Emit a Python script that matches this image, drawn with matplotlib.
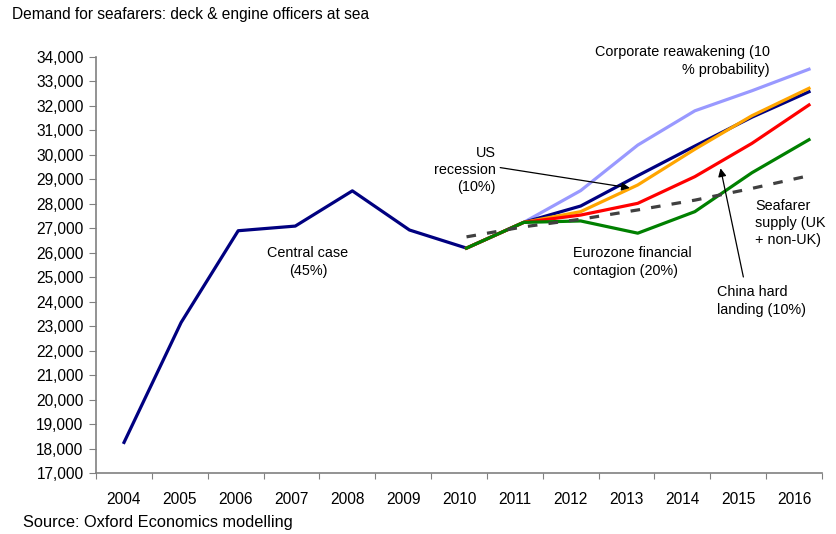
"""
Demand for seafarers (deck & engine officers at sea) under each scenario.
"""

import matplotlib.pyplot as plt

plt.rcParams["font.family"] = ["Liberation Sans", "DejaVu Sans"]
plt.rcParams["font.size"] = 10

years = list(range(2004, 2017))
forecast_years = list(range(2010, 2017))

central = [18250, 23150, 26900, 27090, 28530, 26930, 26190,
           27240, 27910, 29150, 30360, 31540, 32580]
corporate = [26190, 27240, 28540, 30400, 31800, 32620, 33500]
us_recession = [26190, 27240, 27680, 28770, 30230, 31600, 32720]
china = [26190, 27240, 27540, 28020, 29110, 30470, 32040]
eurozone = [26190, 27240, 27300, 26800, 27680, 29270, 30620]
supply = [26650, 27060, 27370, 27750, 28150, 28630, 29150]

fig = plt.figure(figsize=(8.37, 5.34), dpi=100)
ax = fig.add_axes([0.1147, 0.1142, 0.8674, 0.7791])

ax.plot(years, central, color="#000080", lw=2.3, zorder=3)
ax.plot(forecast_years, corporate, color="#9999FF", lw=2.3, zorder=2)
ax.plot(forecast_years, us_recession, color="#FFA500", lw=2.3, zorder=4)
ax.plot(forecast_years, china, color="#FF0000", lw=2.3, zorder=5)
ax.plot(forecast_years, eurozone, color="#008000", lw=2.3, zorder=6)
ax.plot(forecast_years, supply, color="#404040", lw=2.3, ls=(0, (3, 3.5)), zorder=7)

xmin, xmax = 2003.509, 2016.228
ax.set_xlim(xmin, xmax)
ax.set_ylim(17000, 34000)

# category style axis: ticks on the boundaries, labels in between
cat_w = (xmax - xmin) / len(years)
ax.set_xticks([xmin + k * cat_w for k in range(len(years) + 1)])
ax.set_xticklabels([])
ax.set_xticks([xmin + (k + 0.5) * cat_w for k in range(len(years))], minor=True)
ax.set_xticklabels([str(y) for y in years], minor=True, fontsize=11.2)
ax.tick_params(axis="x", which="major", length=4, color="#808080")
ax.tick_params(axis="x", which="minor", length=0, pad=14)

ax.set_yticks(range(17000, 34001, 1000))
ax.set_yticklabels([f"{v:,}" for v in range(17000, 34001, 1000)], fontsize=11.2)
ax.tick_params(axis="y", length=5, color="#808080", pad=4)

for side in ["top", "right"]:
    ax.spines[side].set_visible(False)
for side in ["left", "bottom"]:
    ax.spines[side].set_color("#808080")
    ax.spines[side].set_linewidth(1.2)

fig.text(12 / 837, 1 - 15 / 534, "Demand for seafarers: deck & engine officers at sea",
         fontsize=11.2, va="center", ha="left")
fig.text(23 / 837, 1 - 522 / 534, "Source: Oxford Economics modelling",
         fontsize=11.8, va="center", ha="left")

def px(x, y):
    return (x / 837, 1 - y / 534)

fig.text(*px(770, 61), "Corporate reawakening (10\n% probability)", ha="right",
         va="center", fontsize=10.4, linespacing=1.3)
fig.text(*px(496, 170), "US\nrecession\n(10%)", ha="right", va="center",
         fontsize=10.4, linespacing=1.3)
fig.text(*px(308, 262), "Central case\n(45%)", ha="center", va="center",
         fontsize=10.4, linespacing=1.3)
fig.text(*px(573, 262), "Eurozone financial\ncontagion (20%)", ha="left",
         va="center", fontsize=10.4, linespacing=1.3)
fig.text(*px(755, 223), "Seafarer\nsupply (UK\n+ non-UK)", ha="left",
         va="center", fontsize=10.4, linespacing=1.3)
fig.text(*px(717, 301), "China hard\nlanding (10%)", ha="left", va="center",
         fontsize=10.4, linespacing=1.3)

arrow = dict(arrowstyle="-|>", color="black", lw=0.9, mutation_scale=12,
             shrinkA=0, shrinkB=0)
ax.annotate("", xy=(2012.86, 28650), xytext=(2010.59, 29480),
            arrowprops=arrow, zorder=8)
ax.annotate("", xy=(2014.45, 29450), xytext=(2014.85, 25010),
            arrowprops=arrow, zorder=8)

fig.savefig("out.png", dpi=100)
